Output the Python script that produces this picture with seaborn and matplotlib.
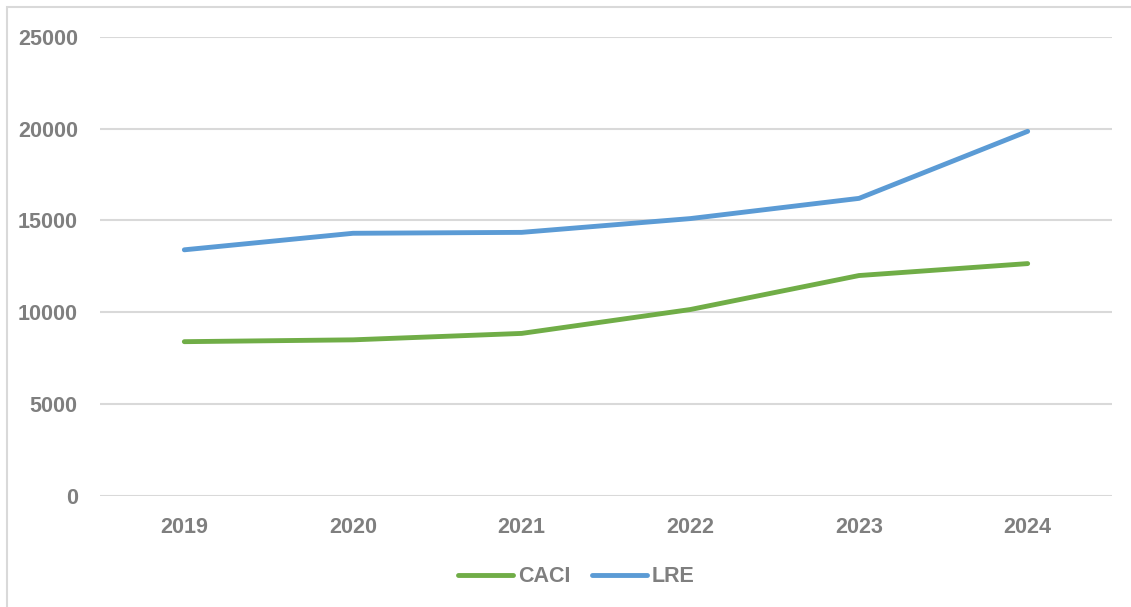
import matplotlib
matplotlib.use("Agg")
import matplotlib.pyplot as plt
from matplotlib import font_manager
from matplotlib.patches import Rectangle
import seaborn as sns
import pandas as pd

# Data
years = ["2019", "2020", "2021", "2022", "2023", "2024"]
caci = [8400, 8500, 8850, 10150, 12000, 12650]
lre = [13400, 14300, 14350, 15100, 16200, 19850]
series_names = ["CACI", "LRE"]
colors = ["#70AD47", "#5B9BD5"]
y_ticks = [0, 5000, 10000, 15000, 20000, 25000]

df = pd.DataFrame({
    "year": years * 2,
    "value": caci + lre,
    "series": [series_names[0]] * len(years) + [series_names[1]] * len(years),
})

sns.set_theme(style="white")

available = {f.name for f in font_manager.fontManager.ttflist}
family = "Liberation Sans Narrow" if "Liberation Sans Narrow" in available else "Liberation Sans"
plt.rcParams["font.family"] = [family, "DejaVu Sans"]
fsize = 18 if family == "Liberation Sans Narrow" else 15.5

W, H = 1131, 607
fig = plt.figure(figsize=(W / 100, H / 100), dpi=100)
fig.patch.set_facecolor("white")

# Chart frame (top and left edges visible)
fig.add_artist(Rectangle((6.5 / W, -0.1), 1.2, 1.1 - 7.5 / H,
                         transform=fig.transFigure, fill=False,
                         edgecolor="#D9D9D9", linewidth=1.5))

ax = fig.add_axes([100 / W, (H - 496) / H, (1112 - 100) / W, (496 - 36.7) / H])

sns.lineplot(data=df, x="year", y="value", hue="series", palette=colors,
             linewidth=3.5, ax=ax, legend=False, sort=False)
for ln in ax.lines:
    ln.set_solid_capstyle("round")
    ln.set_solid_joinstyle("round")

ax.set_xlim(-0.5, len(years) - 0.5)
ax.set_ylim(0, 25000)
ax.set_yticks(y_ticks)
ax.set_yticklabels([str(v) for v in y_ticks])
ax.grid(axis="y", color="#D9D9D9", linewidth=1.5)
ax.grid(axis="x", visible=False)
ax.set_axisbelow(True)
for s in ax.spines.values():
    s.set_visible(False)
ax.set_xlabel("")
ax.set_ylabel("")

text_color = "#7F7F7F"
ax.tick_params(axis="both", length=0, labelsize=fsize, labelcolor=text_color)
ax.tick_params(axis="y", pad=16)
ax.tick_params(axis="x", pad=15)
for lbl in ax.get_xticklabels() + ax.get_yticklabels():
    lbl.set_fontweight("bold")

em = fsize * 100 / 72
handles = [plt.Line2D([], [], color=c, linewidth=3.5, solid_capstyle="round")
           for c in colors]
leg = fig.legend(handles, series_names, loc="center",
                 bbox_to_anchor=(576.5 / W, 1 - 577 / H), ncol=2, frameon=False,
                 handlelength=55 / em, handletextpad=5 / em,
                 columnspacing=21 / em,
                 prop={"size": fsize, "weight": "bold"})
for t in leg.get_texts():
    t.set_color(text_color)

fig.savefig("out.png", dpi=100, facecolor="white")
